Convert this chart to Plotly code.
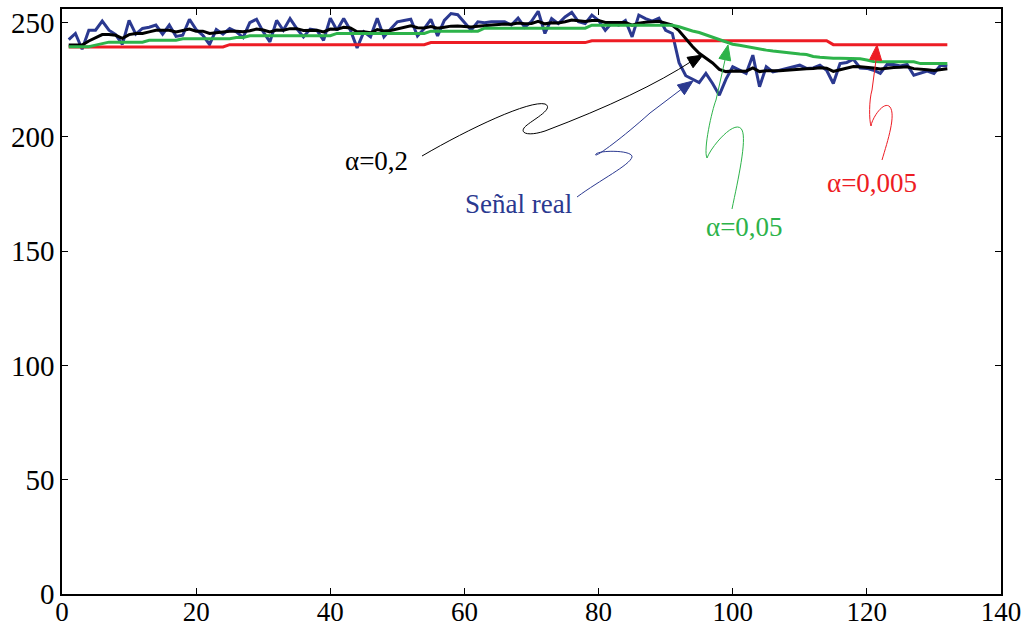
import math
import plotly.graph_objects as go

# ---------------- data ----------------
x_idx = list(range(1, 133))

senal_real = [
    242.6, 245.3, 238.4, 246.7, 246.7, 250.7, 246.7, 244.8, 240.5, 251.0,
    245.0, 247.5, 248.0, 249.0, 245.0, 249.0, 244.0, 244.5, 251.5, 247.0,
    244.5, 240.5, 247.0, 245.0, 247.5, 246.0, 243.5, 250.0, 251.5, 246.0,
    241.6, 251.0, 246.7, 251.8, 247.4, 243.8, 247.2, 246.7, 242.3, 252.0,
    246.7, 251.8, 246.7, 239.0, 246.0, 243.8, 252.0, 243.8, 247.2, 250.4,
    251.0, 251.5, 244.2, 247.4, 251.5, 244.2, 251.0, 254.0, 253.5, 250.0,
    246.7, 250.4, 250.0, 250.4, 250.4, 250.4, 249.0, 252.0, 248.0, 250.6,
    255.0, 245.3, 251.8, 249.6, 252.5, 254.5, 250.4, 249.6, 253.3, 251.0,
    246.7, 250.0, 249.0, 251.0, 243.8, 253.3, 251.8, 250.7, 252.0, 246.7,
    245.3, 232.5, 226.8, 225.3, 223.8, 227.8, 223.4, 218.3, 225.3, 230.7,
    229.2, 227.8, 235.8, 222.0, 230.7, 228.5, 229.2, 230.0, 230.5, 231.4,
    230.0, 230.2, 231.4, 229.2, 223.4, 232.1, 232.6, 234.0, 230.2, 230.0,
    229.2, 227.8, 231.7, 231.7, 231.1, 231.7, 227.0, 227.8, 228.8, 227.8,
    231.4, 231.0,
]

alpha_02 = [
    240.2, 240.2, 240.2, 242.0, 243.4, 244.8, 244.8, 244.5, 243.2, 244.8,
    245.3, 245.3, 246.0, 246.7, 246.7, 246.7, 246.0, 246.7, 247.2, 246.3,
    246.3, 245.3, 245.7, 246.0, 246.3, 246.3, 246.0, 246.5, 247.2, 246.8,
    246.0, 246.8, 246.7, 247.4, 247.4, 246.6, 246.7, 246.7, 246.0, 247.2,
    247.1, 248.0, 247.7, 246.0, 246.0, 245.6, 247.0, 246.4, 246.6, 247.4,
    248.0, 248.7, 247.8, 247.7, 248.3, 247.6, 248.0, 248.5, 248.6, 248.5,
    248.1, 248.5, 248.8, 249.1, 249.3, 249.4, 249.3, 249.9, 249.5, 249.7,
    250.6, 249.5, 250.0, 249.9, 250.4, 251.2, 250.9, 250.5, 251.0, 251.0,
    250.1, 250.1, 249.9, 250.1, 248.9, 249.8, 250.2, 250.3, 250.6, 249.8,
    248.9, 246.5, 242.9, 239.6, 236.6, 234.6, 232.4, 229.6, 228.6, 228.9,
    229.0, 228.8, 230.2, 228.6, 229.0, 228.9, 229.0, 229.2, 229.5, 229.9,
    229.9, 230.0, 230.3, 230.1, 228.7, 229.4, 230.0, 230.8, 230.7, 230.5,
    230.2, 229.7, 230.1, 230.4, 230.5, 230.7, 229.9, 229.5, 229.4, 229.1,
    229.6, 229.9,
]

alpha_005 = (
    [239.5] * 4 + [240.2, 240.9] + [241.5] * 6 + [242.3] * 5 + [243.0] * 8
    + [243.5] * 2 + [244.3] * 13 + [245.3] * 14 + [246.3] * 8 + [247.6] * 16
    + [248.9] * 13
    + [248.2, 247.2, 246.4, 245.7, 244.7, 243.8, 242.8, 241.9, 240.6, 240.1,
       239.5, 239.0, 238.5, 238.0, 237.6, 237.2, 236.8, 236.5, 236.3, 236.1,
       235.2, 234.9, 234.6, 234.5, 234.4, 234.3, 234.3, 234.2, 233.7, 233.0]
    + [232.9] * 6 + [232.1] * 5
)

alpha_0005 = [239.4] * 24 + [240.4] * 30 + [241.3] * 24 + [242.1] * 36 + [240.4] * 18

x_ticks = [0, 20, 40, 60, 80, 100, 120, 140]
y_ticks = [0, 50, 100, 150, 200, 250]

# ---------------- styling ----------------
C_BLUE = "#2B3990"
C_BLACK = "#000000"
C_GREEN = "#2DB34A"
C_RED = "#ED1C24"
FONT = "Liberation Serif"

W, H = 1028, 631
ML, MR, MT, MB = 62, 27, 9, 37
XMAX, YMAX = 140, 256


def px2x(px):
    return (px - ML) / (W - ML - MR) * XMAX


def py2y(py):
    return (H - MB - py) / (H - MT - MB) * YMAX


def path_px(cmds):
    out = []
    for c in cmds:
        if isinstance(c, str):
            out.append(c)
        else:
            out.append(f"{px2x(c[0]):.4f},{py2y(c[1]):.4f}")
    return " ".join(out)


def arrowhead(tip, frm, length=15, half=6):
    dx, dy = tip[0] - frm[0], tip[1] - frm[1]
    n = math.hypot(dx, dy)
    ux, uy = dx / n, dy / n
    bx, by = tip[0] - ux * length, tip[1] - uy * length
    p1 = (bx - uy * half, by + ux * half)
    p2 = (bx + uy * half, by - ux * half)
    return path_px(["M", tip, "L", p1, "L", p2, "Z"])


fig = go.Figure()
fig.add_trace(go.Scatter(x=x_idx, y=senal_real, mode="lines",
                         line=dict(color=C_BLUE, width=3), name="Señal real"))
fig.add_trace(go.Scatter(x=x_idx, y=alpha_0005, mode="lines",
                         line=dict(color=C_RED, width=3), name="α=0,005"))
fig.add_trace(go.Scatter(x=x_idx, y=alpha_02, mode="lines",
                         line=dict(color=C_BLACK, width=3), name="α=0,2"))
fig.add_trace(go.Scatter(x=x_idx, y=alpha_005, mode="lines",
                         line=dict(color=C_GREEN, width=3), name="α=0,05"))

shapes = []
# black curve (alpha=0,2)
shapes.append(dict(type="path", xref="x", yref="y", line=dict(color=C_BLACK, width=1),
                   path=path_px(["M", (422, 156), "C", (470, 128), (530, 100), (545, 104),
                                 "C", (556, 109), (528, 122), (524, 128),
                                 "C", (520, 134), (530, 136), (545, 131),
                                 "Q", (640, 95), (692, 61)])))
shapes.append(dict(type="path", xref="x", yref="y", line=dict(color=C_BLACK, width=1),
                   fillcolor=C_BLACK, path=arrowhead((703, 55), (660, 80))))
# blue curve (Señal real)
shapes.append(dict(type="path", xref="x", yref="y", line=dict(color=C_BLUE, width=1),
                   path=path_px(["M", (577, 197), "C", (600, 180), (630, 165), (632, 157),
                                 "C", (633, 150), (600, 150), (596, 154),
                                 "C", (592, 160), (620, 140), (650, 113),
                                 "L", (683, 88)])))
shapes.append(dict(type="path", xref="x", yref="y", line=dict(color=C_BLUE, width=1),
                   fillcolor=C_BLUE, path=arrowhead((693, 81), (660, 105))))
# green curve
shapes.append(dict(type="path", xref="x", yref="y", line=dict(color=C_GREEN, width=1),
                   path=path_px(["M", (732, 209), "C", (738, 180), (747, 140), (742, 130),
                                 "C", (736, 118), (712, 145), (707, 158),
                                 "C", (703, 150), (712, 110), (716, 100),
                                 "L", (725, 60)])))
shapes.append(dict(type="path", xref="x", yref="y", line=dict(color=C_GREEN, width=1),
                   fillcolor=C_GREEN, path=arrowhead((728, 45), (716, 100))))
# red curve
shapes.append(dict(type="path", xref="x", yref="y", line=dict(color=C_RED, width=1),
                   path=path_px(["M", (882, 160), "C", (888, 140), (896, 115), (890, 107),
                                 "C", (884, 100), (872, 118), (871, 126),
                                 "C", (869, 120), (869, 100), (872, 90),
                                 "L", (876, 60)])))
shapes.append(dict(type="path", xref="x", yref="y", line=dict(color=C_RED, width=1),
                   fillcolor=C_RED, path=arrowhead((877, 45), (872, 100))))

annotations = [
    dict(text="α=0,2", x=px2x(376), y=py2y(161), color=C_BLACK),
    dict(text="Señal real", x=px2x(518), y=py2y(204), color=C_BLUE),
    dict(text="α=0,05", x=px2x(744), y=py2y(227), color=C_GREEN),
    dict(text="α=0,005", x=px2x(872), y=py2y(183), color=C_RED),
]
ann = []
for a in annotations:
    ann.append(dict(text=a["text"], x=a["x"], y=a["y"], xref="x", yref="y",
                    showarrow=False, xanchor="center", yanchor="middle",
                    font=dict(family=FONT, size=27, color=a["color"])))

axis_common = dict(showline=True, linecolor="black", linewidth=1.5, mirror="ticks",
                   ticks="inside", ticklen=6, tickcolor="black", tickwidth=1,
                   showgrid=False, zeroline=False, automargin=False)

fig.update_layout(
    width=W, height=H,
    margin=dict(l=ML, r=MR, t=MT, b=MB, autoexpand=False),
    plot_bgcolor="white", paper_bgcolor="white",
    showlegend=False,
    shapes=shapes, annotations=ann,
    xaxis=dict(range=[0, XMAX], tickvals=x_ticks, ticklabelstandoff=-7,
               tickfont=dict(family=FONT, size=27, color="black"), **axis_common),
    yaxis=dict(range=[0, YMAX], tickvals=y_ticks,
               tickfont=dict(family=FONT, size=29, color="black"), **axis_common),
)

fig.write_html(
    "out.html",
    config={"displayModeBar": False},
    post_script="document.body.style.margin='0';document.body.style.overflow='hidden';",
)
